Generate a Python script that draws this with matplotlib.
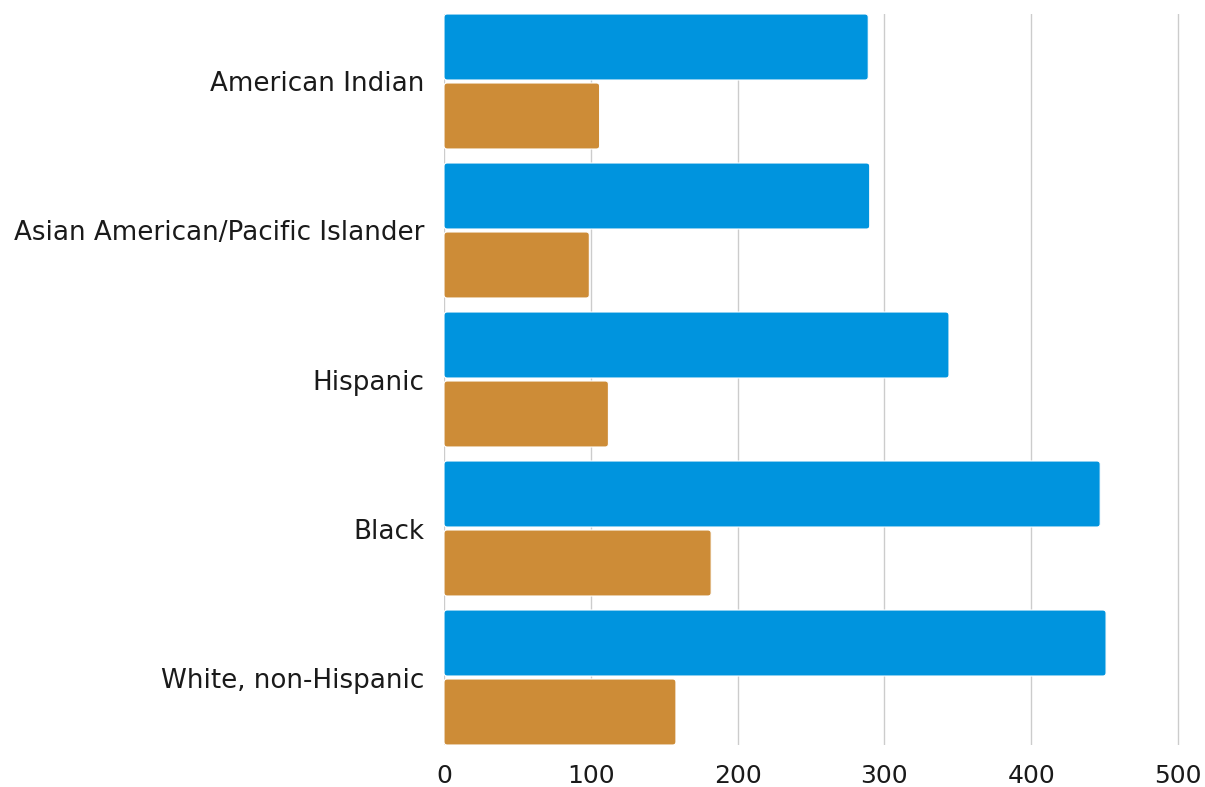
import numpy as np
import matplotlib
matplotlib.use("Agg")
import matplotlib.pyplot as plt
from matplotlib.patches import FancyBboxPatch

groups = ["American Indian", "Asian American/Pacific Islander", "Hispanic",
          "Black", "White, non-Hispanic"]
series_a = [289, 290, 344, 447, 451]
series_b = [106, 99, 112, 182, 158]
x_ticks = [0, 100, 200, 300, 400, 500]

BLUE = "#0094DE"
ORANGE = "#CD8C37"

plt.rcParams["font.family"] = ["DejaVu Sans"]

fig = plt.figure(figsize=(12.05, 7.87), dpi=100)
ax = fig.add_axes([444 / 1205, 1 - 745 / 787, (1181 - 444) / 1205, (745 - 14) / 787])

y = np.arange(len(groups))
h = 0.443
off = 0.2315
bars_a = ax.barh(y - off, series_a, height=h, color=BLUE, zorder=3)
bars_b = ax.barh(y + off, series_b, height=h, color=ORANGE, zorder=3)

# swap plain rectangles for slightly rounded ones
for bars in (bars_a, bars_b):
    for r in bars:
        x0, y0 = r.get_x(), r.get_y()
        w, hh = r.get_width(), r.get_height()
        fb = FancyBboxPatch((x0, y0), w, hh,
                            boxstyle="round,pad=0,rounding_size=2.2",
                            mutation_aspect=1 / 149 * 1.466,
                            facecolor=r.get_facecolor(), edgecolor="white",
                            linewidth=0.8, zorder=3)
        r.set_visible(False)
        ax.add_patch(fb)

ax.set_xlim(0, 500 + 3 / 1.466)
ax.set_ylim(4 + off + h / 2, -off - h / 2)
ax.set_xticks(x_ticks)
ax.set_yticks(y)
ax.set_yticklabels(groups, fontsize=18.8)
ax.tick_params(axis="both", length=0, colors="#1a1a1a")
ax.tick_params(axis="x", labelsize=18, pad=14)
ax.tick_params(axis="y", pad=14.4)
ax.grid(axis="x", color="#cccccc", linewidth=1, zorder=0)
for s in ax.spines.values():
    s.set_visible(False)

fig.savefig("out.png", dpi=100)
